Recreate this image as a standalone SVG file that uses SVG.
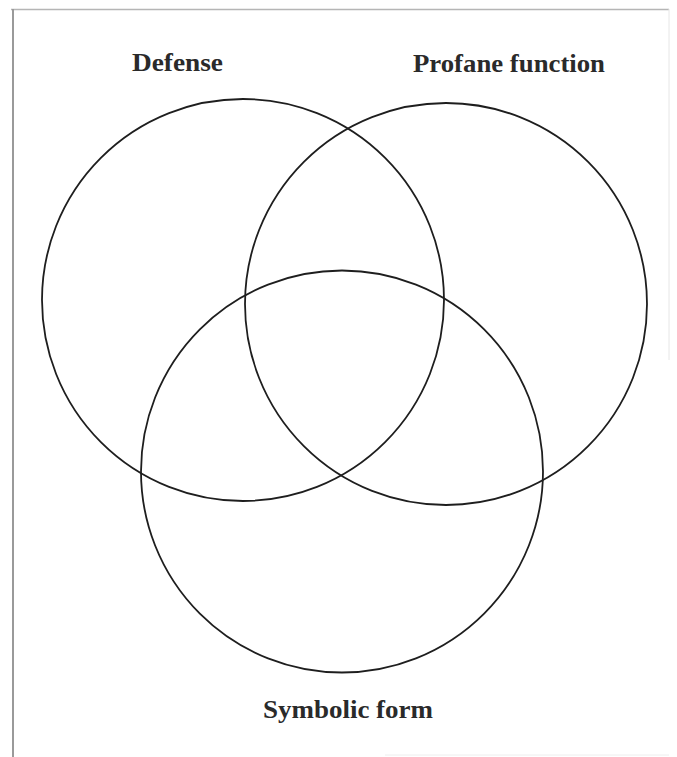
<svg xmlns="http://www.w3.org/2000/svg" width="677" height="757" viewBox="0 0 677 757">
<style>
.c{fill:none;stroke:#1e1e1e;stroke-width:1.8}
.t{font-family:"Liberation Serif","DejaVu Serif",serif;font-weight:bold;font-size:26px;fill:#2a2a2a}
</style>
<rect width="677" height="757" fill="#fff"/>
<g id="frame">
<line x1="11" y1="9.5" x2="669" y2="9.5" stroke="#b5b5b5" stroke-width="1.5"/>
<line x1="13" y1="9" x2="13" y2="757" stroke="#9a9a9a" stroke-width="2"/>
<line x1="669" y1="9" x2="669" y2="360" stroke="#e6e6e6" stroke-width="1"/>
<line x1="385" y1="755" x2="669" y2="755" stroke="#eeeeee" stroke-width="1"/>
</g>
<g id="defense">
<circle class="c" cx="243" cy="300" r="201"/>
<text class="t" x="132" y="71" textLength="91" lengthAdjust="spacingAndGlyphs">Defense</text>
</g>
<g id="profane-function">
<circle class="c" cx="446" cy="304" r="201"/>
<text class="t" x="413" y="72" textLength="192" lengthAdjust="spacingAndGlyphs">Profane function</text>
</g>
<g id="symbolic-form">
<circle class="c" cx="342" cy="471.5" r="201"/>
<text class="t" x="263" y="718" textLength="170" lengthAdjust="spacingAndGlyphs">Symbolic form</text>
</g>
<g id="connectors"/>
</svg>
